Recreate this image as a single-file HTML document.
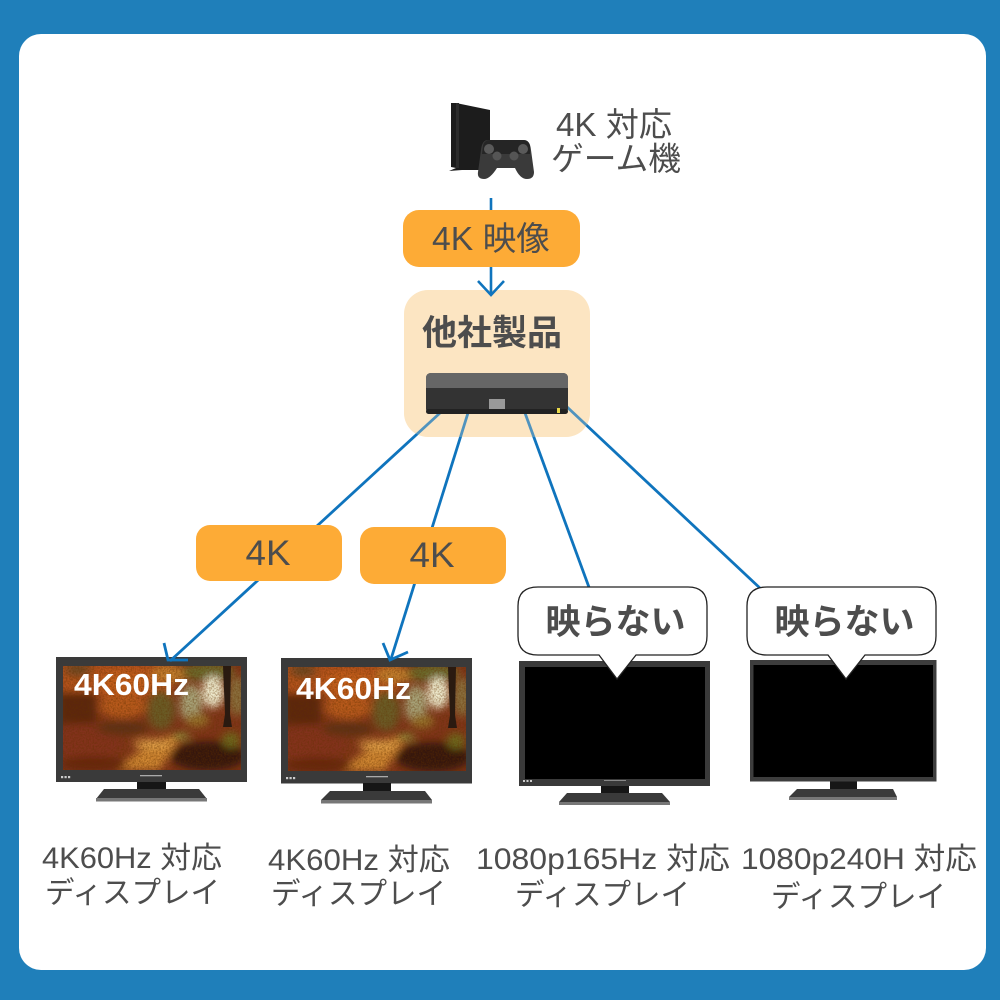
<!DOCTYPE html>
<html lang="ja"><head><meta charset="utf-8"><style>
html,body{margin:0;padding:0;background:#1f7fba}
svg{display:block}
text{font-family:"Liberation Sans","Noto Sans CJK JP",sans-serif;fill:#4d4d4d;text-anchor:middle}
.b{font-weight:700}
</style></head><body>
<svg width="1000" height="1000" viewBox="0 0 1000 1000" xmlns="http://www.w3.org/2000/svg">
<defs>
<filter id="bl" x="-20%" y="-20%" width="140%" height="140%"><feGaussianBlur stdDeviation="4"/></filter>
<filter id="noise" x="0" y="0" width="100%" height="100%">
<feTurbulence type="fractalNoise" baseFrequency="0.6" numOctaves="2" seed="4"/>
<feColorMatrix type="matrix" values="0 0 0 0 0.12  0 0 0 0 0.03  0 0 0 0 0  2.2 0 0 0 -0.8"/>
</filter>
<clipPath id="sc"><rect x="0" y="0" width="178" height="104"/></clipPath>
<g id="forest">
<g clip-path="url(#sc)">
<rect width="178" height="104" fill="#80351a"/>
<g filter="url(#bl)">
<rect x="-5" y="-5" width="115" height="36" fill="#b5521c"/>
<ellipse cx="15" cy="4" rx="14" ry="7" fill="#6e4a20"/>
<ellipse cx="62" cy="16" rx="26" ry="12" fill="#c55e1a"/>
<rect x="-5" y="26" width="38" height="32" fill="#5c2510"/>
<ellipse cx="60" cy="40" rx="24" ry="12" fill="#b85a1a"/>
<ellipse cx="98" cy="44" rx="14" ry="20" fill="#6a5c28"/>
<ellipse cx="108" cy="8" rx="20" ry="8" fill="#c4802e"/>
<ellipse cx="145" cy="6" rx="26" ry="9" fill="#6a6a2c"/>
<ellipse cx="128" cy="38" rx="11" ry="20" fill="#a8a47a"/>
<ellipse cx="150" cy="26" rx="11" ry="16" fill="#f0eccf"/>
<ellipse cx="174" cy="30" rx="9" ry="20" fill="#8a6f3c"/>
<ellipse cx="134" cy="54" rx="12" ry="7" fill="#96722c"/>
<ellipse cx="22" cy="76" rx="36" ry="18" fill="#83331a"/>
<ellipse cx="60" cy="62" rx="26" ry="7" fill="#5e3014"/>
<path d="M50 104 L92 74 L122 66 L112 80 L96 104Z" fill="#cf8632"/>
<ellipse cx="90" cy="78" rx="20" ry="5" fill="#e0a048"/>
<ellipse cx="118" cy="70" rx="9" ry="3" fill="#8b9c40"/>
<ellipse cx="145" cy="90" rx="38" ry="15" fill="#34160a"/>
<ellipse cx="168" cy="74" rx="9" ry="8" fill="#6e6a1e"/>
<ellipse cx="30" cy="98" rx="34" ry="8" fill="#682810"/>
</g>
<rect width="178" height="104" filter="url(#noise)" opacity=".5"/>
<path d="M160 0h8l-1 48 2 13h-9l2-13z" fill="#2a1a10"/>
</g>
</g>
</defs>

<rect width="1000" height="1000" fill="#1f7fba"/>
<rect x="19" y="34" width="967" height="936" rx="22" fill="#fff"/>

<!-- console -->
<path d="M451 103 L456 103 L490 110 V170 L462 170 L449 171 L456 168 L451 167Z" fill="#1c1c1c"/>
<rect x="456" y="103" width="3" height="65" fill="#2c2c2c"/>
<path d="M488 140 H524 Q530 140 531 150 L534 172 Q534 179 527 179 Q520 179 515 168 H497 Q490 179 484 179 Q477 179 478 172 L481 150 Q482 140 488 140Z" fill="#3a3a3a"/>
<path d="M483 146 Q484 140 490 140 H522 Q529 140 530 146 L530 154 H482Z" fill="#252525"/>
<circle cx="489" cy="149" r="5" fill="#5a5a5a"/><circle cx="523" cy="149" r="5" fill="#5a5a5a"/>
<circle cx="497" cy="156" r="4.5" fill="#555"/><circle cx="514" cy="156" r="4.5" fill="#555"/>
<text x="614" y="136" font-size="33" textLength="116" lengthAdjust="spacingAndGlyphs">4K 対応</text>
<text x="616" y="170" font-size="32.5" textLength="130" lengthAdjust="spacingAndGlyphs">ゲーム機</text>

<!-- product box -->
<rect x="404" y="290" width="186" height="147" rx="24" fill="#fde5c2"/>

<!-- monitors -->
<rect x="56" y="657" width="191" height="125" fill="#3a3a3a"/>
<rect x="137" y="782" width="29" height="7" fill="#161616"/>
<path d="M104 789H199L207 799H96Z" fill="#3a3a3a"/>
<rect x="96" y="798" width="111" height="3.5" fill="#777"/>
<rect x="140" y="775" width="22" height="1.3" fill="#aaa"/>
<rect x="61" y="776" width="2.2" height="2.2" fill="#ccc"/><rect x="64.5" y="776" width="2.2" height="2.2" fill="#ccc"/><rect x="68" y="776" width="2.2" height="2.2" fill="#ccc"/>
<use href="#forest" x="63" y="666"/>
<text x="131.5" y="695" font-size="31" class="b" style="fill:#fff" textLength="115" lengthAdjust="spacingAndGlyphs">4K60Hz</text>

<rect x="281" y="658" width="191" height="125.5" fill="#3a3a3a"/>
<rect x="363" y="783" width="28" height="8" fill="#161616"/>
<path d="M330 791H425L432 800H321Z" fill="#3a3a3a"/>
<rect x="321" y="800" width="111" height="3.5" fill="#777"/>
<rect x="366" y="776" width="22" height="1.3" fill="#aaa"/>
<rect x="286" y="777" width="2.2" height="2.2" fill="#ccc"/><rect x="289.5" y="777" width="2.2" height="2.2" fill="#ccc"/><rect x="293" y="777" width="2.2" height="2.2" fill="#ccc"/>
<use href="#forest" x="288" y="667"/>
<text x="353.5" y="699" font-size="31" class="b" style="fill:#fff" textLength="115" lengthAdjust="spacingAndGlyphs">4K60Hz</text>

<rect x="519" y="661" width="191" height="125" fill="#3a3a3a"/>
<rect x="525" y="667" width="180" height="112" fill="#000"/>
<rect x="601" y="786" width="28" height="7" fill="#161616"/>
<path d="M567 793H662L670 802H559Z" fill="#3a3a3a"/>
<rect x="559" y="802" width="111" height="3" fill="#777"/>
<rect x="604" y="780" width="22" height="1" fill="#888"/>
<rect x="523" y="780" width="2" height="2" fill="#ccc"/><rect x="526.5" y="780" width="2" height="2" fill="#ccc"/><rect x="530" y="780" width="2" height="2" fill="#ccc"/>

<rect x="750" y="660" width="186.5" height="121.5" fill="#3d3d3d"/>
<rect x="753.5" y="665" width="179.5" height="112" fill="#000"/>
<rect x="830" y="781.5" width="27" height="7.5" fill="#161616"/>
<path d="M797 789H893L897 797H789Z" fill="#3a3a3a"/>
<rect x="789" y="797" width="108" height="3" fill="#777"/>

<!-- lines -->
<g stroke="#0f74bd" stroke-width="2.8" fill="none">
<path d="M440 413L170 661"/>
<path d="M164 643L168 660L188 660"/>
<path d="M468 413L391 659"/>
<path d="M383 643L390 660L408 652"/>
<path d="M525 413L590 590"/>
<path d="M566 406L762 590"/>
</g>
<rect x="404" y="290" width="186" height="147" rx="24" fill="#fde5c2" opacity=".28"/>
<text x="492" y="345" font-size="35" class="b">他社製品</text>

<!-- top connector -->
<path d="M491 198V295" stroke="#0f74bd" stroke-width="2.6" fill="none"/>
<path d="M478 281L491 295L504 281" stroke="#0f74bd" stroke-width="2.6" fill="none"/>
<rect x="403" y="210" width="177" height="57" rx="16" fill="#fdab36"/>
<text x="491" y="250" font-size="33" textLength="118" lengthAdjust="spacingAndGlyphs">4K 映像</text>

<!-- device -->
<rect x="426" y="373" width="142" height="41" rx="5" fill="#333"/>
<path d="M426 388V378Q426 373 431 373H563Q568 373 568 378V388Z" fill="#666"/>
<rect x="489" y="399" width="16" height="10" fill="#999"/>
<rect x="426" y="409" width="142" height="5" rx="2.5" fill="#222"/>
<rect x="557" y="408" width="3" height="5" fill="#e8d84a"/>

<!-- labels -->
<rect x="196" y="525" width="146" height="56" rx="14" fill="#fdab36"/>
<text x="268" y="565" font-size="35" textLength="45" lengthAdjust="spacingAndGlyphs">4K</text>
<rect x="360" y="527" width="146" height="57" rx="14" fill="#fdab36"/>
<text x="432" y="567" font-size="35" textLength="45" lengthAdjust="spacingAndGlyphs">4K</text>

<!-- bubbles -->
<path d="M538 587H688Q707 587 707 606V636Q707 655 688 655H636L617 679L599 655H538Q518 655 518 636V606Q518 587 538 587Z" fill="#fff" stroke="#222" stroke-width="1.3"/>
<text x="615.5" y="634" font-size="35" class="b">映らない</text>
<path d="M767 587H917Q936 587 936 606V636Q936 655 917 655H865L846 679L828 655H767Q747 655 747 636V606Q747 587 767 587Z" fill="#fff" stroke="#222" stroke-width="1.3"/>
<text x="844.5" y="634" font-size="35" class="b">映らない</text>

<!-- captions -->
<g font-size="30">
<text x="132" y="868" textLength="180" lengthAdjust="spacingAndGlyphs">4K60Hz 対応</text>
<text x="132.5" y="903" textLength="175" lengthAdjust="spacingAndGlyphs">ディスプレイ</text>
<text x="359" y="870" textLength="182" lengthAdjust="spacingAndGlyphs">4K60Hz 対応</text>
<text x="358.5" y="904" textLength="175" lengthAdjust="spacingAndGlyphs">ディスプレイ</text>
<text x="603" y="869" textLength="254" lengthAdjust="spacingAndGlyphs">1080p165Hz 対応</text>
<text x="602.5" y="905" textLength="175" lengthAdjust="spacingAndGlyphs">ディスプレイ</text>
<text x="859" y="869" textLength="236" lengthAdjust="spacingAndGlyphs">1080p240H 対応</text>
<text x="858.5" y="907" textLength="175" lengthAdjust="spacingAndGlyphs">ディスプレイ</text>
</g>
</svg>
</body></html>
